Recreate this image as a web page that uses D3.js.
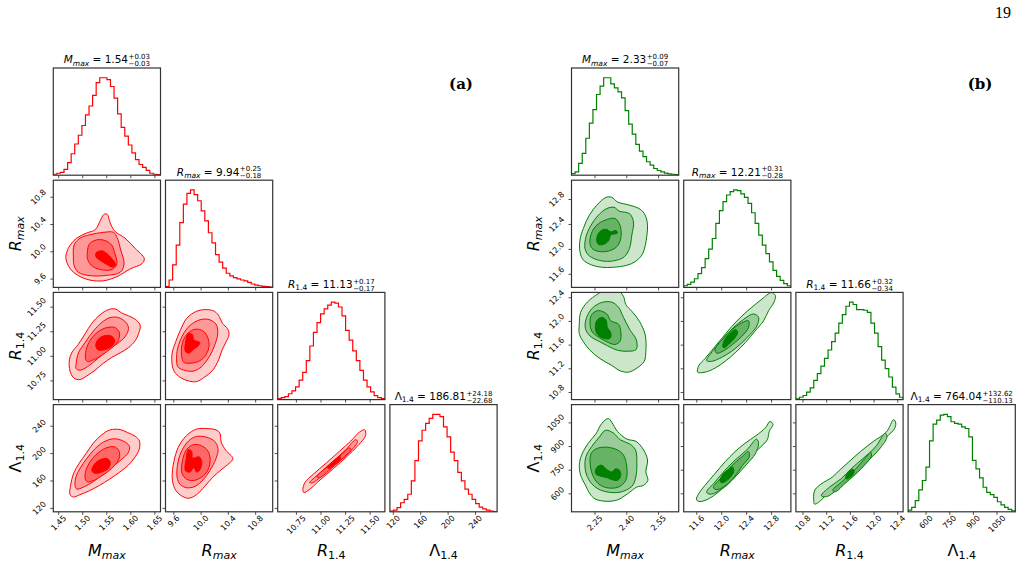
<!DOCTYPE html>
<html><head><meta charset="utf-8">
<script src="https://cdn.jsdelivr.net/npm/d3@7"></script>
<style>body{margin:0;background:#fff}svg{display:block}text{font-family:"DejaVu Sans",sans-serif;fill:#000}</style>
</head><body><svg id="c" width="1024" height="564"></svg>
<script>
// ---------------- DATA ----------------
const symbols = [
  [{t:"M",it:1},{t:"max",it:1,sub:1}],
  [{t:"R",it:1},{t:"max",it:1,sub:1}],
  [{t:"R",it:1},{t:"1.4",sub:1}],
  [{t:"Λ"},{t:"1.4",sub:1}]
];
// (a)
const domainsA = [[1.4388,1.6617],[9.478,11.05],[10.56,11.65],[115,271.5]];
const ticksA = [[1.45,1.50,1.55,1.60,1.65],[9.6,10.0,10.4,10.8],[10.75,11.0,11.25,11.5],[120,160,200,240]];
const tickLabelsA = [["1.45","1.50","1.55","1.60","1.65"],["9.6","10.0","10.4","10.8"],["10.75","11.00","11.25","11.50"],["120","160","200","240"]];
const titlesA = [["1.54","+0.03","−0.03"],["9.94","+0.25","−0.18"],["11.13","+0.17","−0.17"],["186.81","+24.18","−22.68"]];
const histA_M = [1,2,3,6,13,22,32,41,51,62,71,82,95,100,100,98,91,79,63,49,40,31,23,16,11,8,5,2,1,0.5];
const histA_Rmax = [0.7,7.6,23.2,43.3,66.4,85.5,96.5,100,95.2,88.9,78.5,68.2,56.1,45.7,33.6,26,19.7,14.5,11.8,10,8.7,7.6,6.6,5.2,3.5,2.4,1.7,1,0.7,0.3];
const histA_R14 = [1,2,3,6,9,13,20,28,40,55,69,79,88,93,97,100,99,95,86,71,61,50,40,30,20,13,8,4,2,1];
const histA_L = [0.7,1.7,4.2,9.3,12.8,18,31.8,52.6,72.7,83.7,90.7,95.8,100,100,97.6,87.2,76.8,61.2,52.6,40.5,31.8,23.2,18,12.8,8.3,4.8,3.1,1.7,0.7,0.3];

const contA_M_Rmax = [
 [[1.465,9.90],[1.467,10.0],[1.474,10.10],[1.4875,10.2],[1.508,10.275],[1.526,10.325],[1.536,10.45],[1.544,10.55],[1.551,10.55],[1.557,10.425],[1.567,10.30],[1.588,10.20],[1.609,10.05],[1.628,9.90],[1.623,9.825],[1.599,9.75],[1.571,9.635],[1.543,9.575],[1.515,9.585],[1.491,9.65],[1.474,9.75]],
 [[1.4806,9.925],[1.482,10.10],[1.4944,10.20],[1.515,10.25],[1.543,10.285],[1.564,10.285],[1.572,10.20],[1.579,10.025],[1.586,9.825],[1.578,9.70],[1.55,9.655],[1.515,9.65],[1.491,9.70],[1.482,9.80]],
 [[1.5097,10.0],[1.5139,10.115],[1.529,10.175],[1.5465,10.165],[1.56,10.10],[1.567,9.975],[1.571,9.825],[1.5625,9.745],[1.5396,9.735],[1.5208,9.785],[1.5104,9.885]],
 [[1.5278,9.985],[1.5396,10.015],[1.55,9.975],[1.5604,9.90],[1.568,9.815],[1.5625,9.775],[1.55,9.815],[1.536,9.875],[1.5278,9.925]]
];
const contA_M_R14 = [
 [[1.4722,10.965],[1.4771,11.035],[1.491,11.123],[1.5049,11.229],[1.5188,11.335],[1.5361,11.423],[1.5535,11.475],[1.5674,11.482],[1.5813,11.44],[1.5951,11.412],[1.609,11.377],[1.6194,11.317],[1.616,11.229],[1.609,11.158],[1.5951,11.088],[1.5778,11.035],[1.5604,10.989],[1.5431,10.93],[1.5257,10.859],[1.5083,10.80],[1.4944,10.764],[1.4819,10.778],[1.4736,10.849]],
 [[1.4861,10.919],[1.491,11.035],[1.5049,11.141],[1.5222,11.257],[1.5396,11.345],[1.5569,11.394],[1.5743,11.394],[1.5903,11.342],[1.5951,11.282],[1.5882,11.20],[1.5722,11.13],[1.5514,11.06],[1.5306,10.975],[1.5097,10.894],[1.4944,10.859],[1.4861,10.877]],
 [[1.5056,10.982],[1.5083,11.088],[1.5188,11.187],[1.534,11.257],[1.55,11.292],[1.5674,11.292],[1.5764,11.236],[1.5729,11.151],[1.559,11.081],[1.5396,11.011],[1.5208,10.961],[1.5097,10.947]],
 [[1.5271,11.116],[1.5326,11.176],[1.5465,11.211],[1.5604,11.204],[1.5667,11.158],[1.5604,11.102],[1.5451,11.067],[1.5313,11.067]]
];
const contA_Rmax_R14 = [
 [[9.576,10.912],[9.576,11.035],[9.624,11.141],[9.695,11.264],[9.79,11.387],[9.933,11.458],[10.076,11.475],[10.195,11.458],[10.267,11.405],[10.314,11.335],[10.386,11.282],[10.41,11.222],[10.362,11.141],[10.305,11.06],[10.257,10.965],[10.171,10.859],[10.052,10.789],[9.933,10.743],[9.814,10.75],[9.695,10.785],[9.61,10.842]],
 [[9.648,10.912],[9.648,11.053],[9.71,11.187],[9.805,11.292],[9.948,11.363],[10.1,11.377],[10.219,11.327],[10.243,11.222],[10.195,11.106],[10.124,11.0],[10.005,10.894],[9.886,10.849],[9.767,10.856],[9.671,10.884]],
 [[9.719,10.982],[9.719,11.116],[9.79,11.222],[9.91,11.275],[10.029,11.257],[10.1,11.187],[10.114,11.088],[10.052,10.996],[9.957,10.947],[9.838,10.93],[9.743,10.94]],
 [[9.771,11.046],[9.776,11.158],[9.814,11.236],[9.871,11.222],[9.895,11.165],[9.981,11.141],[9.957,11.106],[9.886,11.07],[9.829,11.035]]
];
const contA_M_L = [
 [[1.4736,140.0],[1.475,154.4],[1.4806,170.2],[1.4924,185.6],[1.5069,200],[1.5222,215.4],[1.5396,227.4],[1.5569,234.6],[1.5778,235],[1.5931,230.7],[1.609,225.4],[1.618,218.2],[1.6174,206.2],[1.609,195.2],[1.5951,183.2],[1.5764,172.6],[1.5556,162.6],[1.5347,153.4],[1.5139,145.8],[1.4944,140],[1.4806,136.6]],
 [[1.484,153],[1.4861,166.4],[1.4944,178.4],[1.5083,192.8],[1.5257,207.2],[1.5431,216.8],[1.5639,221.6],[1.5847,218.2],[1.5972,210.6],[1.5944,201],[1.5813,191.8],[1.5639,181.8],[1.5431,170.2],[1.5222,159.2],[1.5014,151],[1.4875,148.2]],
 [[1.5049,164],[1.5069,176],[1.5167,189.4],[1.5326,201.4],[1.55,208.6],[1.5674,209.6],[1.5764,201.9],[1.5743,190.4],[1.5604,178.4],[1.5396,167.4],[1.5222,160.6],[1.5097,158.7]],
 [[1.5188,175],[1.5243,184.6],[1.5361,190.9],[1.55,192.8],[1.5569,188],[1.5535,178.4],[1.5396,173.1],[1.5257,171.2]]
];
const contA_Rmax_L = [
 [[9.576,165.4],[9.6,188],[9.662,208.6],[9.743,221.6],[9.838,230.7],[9.943,236],[10.086,236.5],[10.219,234.6],[10.276,229.8],[10.295,216.8],[10.362,204.8],[10.467,192.8],[10.41,185.6],[10.29,176],[10.171,165.4],[10.052,152],[9.933,140],[9.814,134.7],[9.695,139.5],[9.61,149.6]],
 [[9.648,165.4],[9.662,188],[9.719,204.8],[9.814,218.2],[9.933,225],[10.076,224],[10.195,218.2],[10.248,207.2],[10.219,192.8],[10.133,176],[10.029,161.6],[9.91,152],[9.79,150.1],[9.695,154.9]],
 [[9.719,171.2],[9.733,192.8],[9.79,206.2],[9.886,213],[10.005,211.5],[10.1,203.8],[10.133,191.8],[10.1,176],[10.005,165.4],[9.886,160.6],[9.79,162.6]],
 [[9.771,175],[9.781,192.8],[9.814,205.8],[9.862,203.4],[9.876,193.3],[9.971,195.2],[10.01,188],[9.981,176],[9.933,173.1],[9.895,179.8],[9.838,173.1]]
];
const contA_R14_L = [
 [[10.816,147],[10.836,157.6],[10.924,170.1],[11.056,186.5],[11.188,203.4],[11.303,218.3],[11.391,231.3],[11.444,234.7],[11.454,226.5],[11.378,212],[11.26,195.2],[11.128,178.3],[10.99,161.4],[10.885,147.9],[10.826,143.1]],
 [[10.885,157.6],[10.984,171.1],[11.115,188],[11.247,204.8],[11.352,220.2],[11.372,217.8],[11.293,202.4],[11.171,186.5],[11.039,171.1],[10.918,157.6]],
 [[10.957,166.3],[11.072,181.7],[11.204,197.6],[11.286,208.2],[11.306,205.8],[11.227,194.2],[11.105,178.3],[10.984,164.8]],
 [[11.063,179.8],[11.138,190.4],[11.194,196.1],[11.194,191.3],[11.138,184.1],[11.082,178.3]]
];

// (b)
const domainsB = [[2.139,2.645],[11.39,13.11],[10.68,12.49],[486,1166]];
const ticksB = [[2.25,2.40,2.55],[11.6,12.0,12.4,12.8],[10.8,11.2,11.6,12.0,12.4],[600,750,900,1050]];
const tickLabelsB = [["2.25","2.40","2.55"],["11.6","12.0","12.4","12.8"],["10.8","11.2","11.6","12.0","12.4"],["600","750","900","1050"]];
const titlesB = [["2.33","+0.09","−0.07"],["12.21","+0.31","−0.28"],["11.66","+0.32","−0.34"],["764.04","+132.62","−110.13"]];
const histB_M = [1.7,3.4,12.1,22.4,37.9,53.4,67.2,82.8,91.4,100,100,93.8,89.7,85.5,79.3,66.2,52.4,42.1,31.7,24.8,19,13.8,10.3,6.9,4.8,3.4,2.1,1.4,1,0.7];
const histB_Rmax = [1.7,3.1,5.5,8.9,14.1,20.3,29.6,39.2,50.2,65.6,78.7,88,94.8,98.3,100,99.3,95.9,92.4,86.3,76.6,65.6,53.6,43.3,34.7,26.1,17.5,11.3,7.2,3.8,1.7];
const histB_R14 = [0.7,2.4,4.2,7.6,12.1,19.7,26.6,34.3,42.2,50.9,59.5,68.2,78.5,87.2,95.8,100,97.6,92.4,92.4,91.7,89.6,78.5,68.2,54.3,40.5,31.8,23.2,12.8,5.9,2.4];
const histB_L = [1.7,4.5,11.4,22.4,32.1,45.9,72.8,90,94.1,99.3,100,97.6,92.4,90.7,90,87.2,85.5,76.9,52.8,44.1,34.8,25.2,20,17.6,14.8,10.3,7.2,4.5,2.4,1];

const contB_M_Rmax = [
 [[2.1789,11.963],[2.1789,12.149],[2.1947,12.335],[2.2231,12.548],[2.2579,12.707],[2.3021,12.835],[2.329,12.835],[2.3558,12.761],[2.4159,12.707],[2.4633,12.644],[2.487,12.548],[2.498,12.388],[2.4949,12.229],[2.487,12.059],[2.4712,11.91],[2.4396,11.803],[2.4001,11.745],[2.3369,11.713],[2.2816,11.713],[2.2342,11.75],[2.1947,11.83]],
 [[2.2026,12.016],[2.2073,12.202],[2.2295,12.378],[2.2626,12.537],[2.3021,12.649],[2.339,12.676],[2.3653,12.612],[2.4127,12.574],[2.4317,12.441],[2.4238,12.229],[2.4127,12.016],[2.389,11.883],[2.3495,11.824],[2.2974,11.809],[2.25,11.846],[2.2184,11.91]],
 [[2.2263,12.096],[2.2326,12.255],[2.2579,12.388],[2.2974,12.468],[2.3448,12.495],[2.3685,12.378],[2.3716,12.176],[2.3527,12.043],[2.3132,11.973],[2.2658,11.968],[2.2358,12.016]],
 [[2.2579,12.149],[2.2658,12.255],[2.2848,12.314],[2.3085,12.319],[2.3211,12.282],[2.3495,12.303],[2.3558,12.261],[2.3243,12.229],[2.3132,12.133],[2.2895,12.08],[2.2658,12.08]]
];
const contB_M_R14 = [
 [[2.1758,11.954],[2.1821,12.154],[2.2137,12.326],[2.2658,12.469],[2.3132,12.554],[2.3558,12.537],[2.3843,12.423],[2.3953,12.286],[2.4238,12.171],[2.4601,12.0],[2.487,11.771],[2.4901,11.497],[2.4822,11.326],[2.4475,11.211],[2.4079,11.143],[2.3685,11.166],[2.329,11.257],[2.2737,11.371],[2.2263,11.514],[2.1947,11.657],[2.1758,11.794]],
 [[2.2042,11.886],[2.2105,12.069],[2.2389,12.229],[2.2816,12.32],[2.329,12.326],[2.3606,12.24],[2.3843,12.069],[2.4159,11.851],[2.4443,11.697],[2.4443,11.526],[2.4032,11.497],[2.3558,11.514],[2.3085,11.589],[2.2658,11.669],[2.2263,11.754]],
 [[2.2263,11.966],[2.2342,12.114],[2.2658,12.183],[2.3053,12.126],[2.3243,12.011],[2.3606,11.954],[2.3716,11.829],[2.3685,11.669],[2.3448,11.611],[2.3053,11.657],[2.2658,11.737],[2.2358,11.829]],
 [[2.2516,11.886],[2.2579,12.011],[2.2816,12.069],[2.3021,12.023],[2.3085,11.897],[2.3243,11.811],[2.3211,11.714],[2.2895,11.714],[2.2611,11.783]]
];
const contB_Rmax_R14 = [
 [[11.613,11.143],[11.634,11.257],[11.731,11.371],[11.866,11.543],[12.011,11.726],[12.161,11.914],[12.323,12.091],[12.484,12.24],[12.645,12.377],[12.796,12.486],[12.86,12.44],[12.839,12.326],[12.753,12.183],[12.672,12.011],[12.538,11.84],[12.376,11.64],[12.215,11.469],[12.054,11.326],[11.892,11.211],[11.731,11.143]],
 [[11.758,11.337],[11.866,11.514],[12.027,11.714],[12.188,11.897],[12.349,12.034],[12.511,12.126],[12.591,12.069],[12.565,11.926],[12.457,11.783],[12.323,11.64],[12.161,11.497],[12.0,11.394],[11.839,11.326]],
 [[11.892,11.52],[12.0,11.686],[12.161,11.857],[12.312,11.971],[12.43,12.011],[12.43,11.897],[12.323,11.749],[12.172,11.611],[12.038,11.509],[11.919,11.463]],
 [[12.016,11.571],[12.054,11.709],[12.134,11.8],[12.226,11.863],[12.253,11.806],[12.188,11.691],[12.108,11.611],[12.043,11.554]]
];
const contB_M_L = [
 [[2.1758,782.1],[2.1868,846.4],[2.2184,921.4],[2.2547,981.4],[2.2816,1045.7],[2.3132,1077.9],[2.329,1054.3],[2.3558,996.4],[2.4001,947.2],[2.4443,932.2],[2.4791,878.6],[2.498,814.3],[2.4901,739.3],[2.4996,685.7],[2.4791,653.6],[2.4475,642.9],[2.4032,600],[2.3558,561.4],[2.3021,552.9],[2.25,567.9],[2.2263,600],[2.2026,660],[2.1821,717.9]],
 [[2.2026,771.4],[2.2073,835.7],[2.2342,900],[2.2705,960],[2.299,1002.9],[2.3369,985.7],[2.3685,942.9],[2.4127,917.1],[2.4412,878.6],[2.4475,792.9],[2.4427,707.1],[2.4238,647.1],[2.3685,610.7],[2.3132,610.7],[2.2658,630],[2.2342,664.3],[2.2105,717.9]],
 [[2.2263,810],[2.2342,861.4],[2.2579,887.1],[2.3053,895.7],[2.3558,878.6],[2.3843,846.4],[2.4001,771.4],[2.3953,685.7],[2.3606,642.9],[2.3053,638.6],[2.2658,664.3],[2.2389,717.9]],
 [[2.2516,745.7],[2.2611,771.4],[2.2816,782.1],[2.3053,754.3],[2.329,739.3],[2.3464,758.6],[2.3653,750],[2.3716,715.7],[2.3574,685.7],[2.329,690],[2.3053,702.9],[2.2769,711.4],[2.2547,724.3]]
];
const contB_Rmax_L = [
 [[11.597,561.4],[11.613,589.3],[11.731,653.6],[11.892,728.6],[12.054,803.6],[12.215,867.9],[12.376,921.4],[12.548,968.6],[12.699,1017.9],[12.774,1058.6],[12.823,1041.4],[12.763,996.4],[12.731,942.9],[12.602,889.3],[12.441,825],[12.269,750],[12.108,675],[11.946,610.7],[11.785,567.9],[11.651,550.7]],
 [[11.758,610.7],[11.892,675],[12.054,750],[12.215,814.3],[12.403,878.6],[12.559,947.1],[12.591,917.1],[12.538,852.9],[12.403,788.6],[12.242,717.9],[12.081,653.6],[11.919,610.7],[11.812,597.9]],
 [[11.866,639.3],[12.0,705.7],[12.161,778.6],[12.323,834.3],[12.43,868.6],[12.441,834.3],[12.333,780],[12.199,705.7],[12.065,654.3],[11.925,626.4]],
 [[11.973,685.7],[12.027,728.6],[12.108,754.3],[12.172,771.4],[12.194,741.4],[12.134,702.9],[12.054,677.1],[11.989,670.7]]
];
const contB_R14_L = [
 [[10.983,549.9],[10.994,618.7],[11.103,661.8],[11.291,704.8],[11.429,754.3],[11.589,808.1],[11.771,868.4],[11.989,932.9],[12.206,991],[12.331,1070.6],[12.366,1049.1],[12.343,1012.5],[12.206,958.7],[12.046,898.5],[11.863,833.9],[11.703,775.8],[11.531,711.3],[11.36,653.2],[11.189,592.9],[11.063,545.6],[10.994,534.8]],
 [[11.109,588.6],[11.246,642.4],[11.446,696.2],[11.617,760.8],[11.817,825.3],[12.017,894.2],[12.189,984.6],[12.217,958.7],[12.103,889.9],[11.92,816.7],[11.749,752.2],[11.56,687.6],[11.371,625.2],[11.2,582.1]],
 [[11.303,623],[11.474,683.3],[11.674,752.2],[11.846,825.3],[11.943,864.1],[11.954,838.2],[11.851,786.6],[11.68,722],[11.509,666.1],[11.349,613.4]],
 [[11.52,709.1],[11.577,739.2],[11.646,756.5],[11.663,734.9],[11.6,704.8],[11.537,694]]
];

// ---------------- DRAWING ----------------
const svg = d3.select("#c");
const STEP = 112.2, SIZE = 107.2, Y0 = 68;
let clipId = 0;

function addSym(sel, sym, subFs, subDy) {
  let shifted = false;
  sym.forEach(p => {
    const ts = sel.append("tspan").text(p.t);
    if (p.it) ts.attr("font-style", "italic");
    if (p.sub) { ts.attr("font-size", subFs).attr("dy", subDy); shifted = true; }
  });
  return shifted;
}

function corner(cfg) {
  const g = svg.append("g");
  const n = 4;
  const xs = cfg.domains.map((d, k) => d3.scaleLinear().domain(d).range([cfg.x0 + k*STEP, cfg.x0 + k*STEP + SIZE]));
  const ys = cfg.domains.map((d, k) => d3.scaleLinear().domain(d).range([Y0 + k*STEP + SIZE, Y0 + k*STEP]));
  const contours = {"1_0":cfg.c10,"2_0":cfg.c20,"2_1":cfg.c21,"3_0":cfg.c30,"3_1":cfg.c31,"3_2":cfg.c32};
  for (let i = 0; i < n; i++) {
    for (let j = 0; j <= i; j++) {
      const px = cfg.x0 + j*STEP, py = Y0 + i*STEP;
      const id = "clip" + (clipId++);
      g.append("clipPath").attr("id", id).append("rect").attr("x", px).attr("y", py).attr("width", SIZE).attr("height", SIZE);
      const pg = g.append("g").attr("clip-path", `url(#${id})`);
      const x = xs[j];
      if (i === j) {
        const h = cfg.hists[i];
        const y = d3.scaleLinear().domain([0, 1.1*d3.max(h)]).range([py+SIZE, py]);
        const d0 = cfg.domains[i][0], d1 = cfg.domains[i][1];
        const pts = [[d0, 0]];
        h.forEach((v, k) => { pts.push([d0 + k*(d1-d0)/h.length, v]); pts.push([d0 + (k+1)*(d1-d0)/h.length, v]); });
        pts.push([d1, 0]);
        pg.append("path").attr("d", d3.line().x(p => x(p[0])).y(p => y(p[1]))(pts))
          .attr("fill", "none").attr("stroke", cfg.color).attr("stroke-width", 1.2);
      } else {
        const y = ys[i];
        const levels = contours[i + "_" + j];
        const line = d3.line().x(p => x(p[0])).y(p => y(p[1])).curve(d3.curveCatmullRomClosed.alpha(0.5));
        levels.forEach((poly, k) => {
          pg.append("path").attr("d", line(poly)).attr("fill", cfg.fills[k])
            .attr("stroke", cfg.color).attr("stroke-width", 1).attr("stroke-linejoin", "round");
        });
        // left ticks
        cfg.ticks[i].forEach(v => {
          g.append("line").attr("x1", px - 3).attr("x2", px).attr("y1", y(v)).attr("y2", y(v)).attr("stroke", "#222").attr("stroke-width", 0.8);
        });
      }
      // bottom ticks
      cfg.ticks[j].forEach(v => {
        g.append("line").attr("x1", x(v)).attr("x2", x(v)).attr("y1", py + SIZE).attr("y2", py + SIZE + 3).attr("stroke", "#222").attr("stroke-width", 0.8);
      });
      g.append("rect").attr("x", px).attr("y", py).attr("width", SIZE).attr("height", SIZE)
        .attr("fill", "none").attr("stroke", "#333").attr("stroke-width", 1.2);
      // bottom tick labels
      if (i === n - 1) {
        cfg.ticks[j].forEach((v, k) => {
          const t = g.append("text").attr("font-size", 8).attr("text-anchor", "middle").attr("dominant-baseline", "central").text(cfg.tickLabels[j][k]);
          const L = t.node().getComputedTextLength();
          const bb = (L + 7) * 0.7071;
          t.attr("transform", `translate(${x(v)},${py + SIZE + 2.5 + bb/2}) rotate(-45)`);
        });
        const lab = g.append("text").attr("font-size", 16).attr("text-anchor", "middle")
          .attr("x", px + SIZE/2).attr("y", py + SIZE + 44);
        addSym(lab, symbols[j], 11, 3);
      }
      // left tick labels
      if (j === 0 && i > 0) {
        const y = ys[i];
        cfg.ticks[i].forEach((v, k) => {
          const t = g.append("text").attr("font-size", 8).attr("text-anchor", "middle").attr("dominant-baseline", "central").text(cfg.tickLabels[i][k]);
          const L = t.node().getComputedTextLength();
          const bb = (L + 7) * 0.7071;
          t.attr("transform", `translate(${px - 6 - bb/2},${y(v)}) rotate(-45)`);
        });
        const lab = g.append("text").attr("font-size", 16).attr("text-anchor", "middle")
          .attr("transform", `translate(${px - 32.8},${py + SIZE/2}) rotate(-90)`);
        addSym(lab, symbols[i], 11, 3);
      }
    }
    // title
    const px = cfg.x0 + i*STEP, py = Y0 + i*STEP;
    const base = py - 4.6;
    const tg = g.append("g");
    const t = tg.append("text").attr("font-size", 10.5).attr("x", 0).attr("y", base);
    const sh = addSym(t, symbols[i], 7.5, 2.4);
    const eq = t.append("tspan").text(" = " + cfg.titles[i][0]);
    if (sh) eq.attr("dy", -2.4);
    const w = t.node().getComputedTextLength();
    const sp = tg.append("text").attr("font-size", 7).attr("x", w + 0.5).attr("y", base - 4.3).text(cfg.titles[i][1]);
    const sb = tg.append("text").attr("font-size", 7).attr("x", w + 0.5).attr("y", base + 2.7).text(cfg.titles[i][2]);
    const tw = w + 0.5 + Math.max(sp.node().getComputedTextLength(), sb.node().getComputedTextLength());
    tg.attr("transform", `translate(${px + SIZE/2 - tw/2},0)`);
  }
}

corner({x0: 53.3, domains: domainsA, ticks: ticksA, tickLabels: tickLabelsA, titles: titlesA,
  hists: [histA_M, histA_Rmax, histA_R14, histA_L], color: "#ff0000",
  fills: ["#ffcccc", "#ff9999", "#ff6666", "#ff0000"],
  c10: contA_M_Rmax, c20: contA_M_R14, c21: contA_Rmax_R14, c30: contA_M_L, c31: contA_Rmax_L, c32: contA_R14_L});
corner({x0: 571.5, domains: domainsB, ticks: ticksB, tickLabels: tickLabelsB, titles: titlesB,
  hists: [histB_M, histB_Rmax, histB_R14, histB_L], color: "#008000",
  fills: ["#cce6cc", "#99cc99", "#66b366", "#008000"],
  c10: contB_M_Rmax, c20: contB_M_R14, c21: contB_Rmax_R14, c30: contB_M_L, c31: contB_Rmax_L, c32: contB_R14_L});

svg.append("text").attr("x", 461).attr("y", 88.5).attr("text-anchor", "middle")
  .style("font-family", "'DejaVu Serif',serif").attr("font-weight", "bold").attr("font-size", 15).text("(a)");
svg.append("text").attr("x", 980).attr("y", 88.5).attr("text-anchor", "middle")
  .style("font-family", "'DejaVu Serif',serif").attr("font-weight", "bold").attr("font-size", 15).text("(b)");
svg.append("text").attr("x", 1011).attr("y", 18).attr("text-anchor", "end")
  .style("font-family", "'Liberation Serif',serif").attr("font-size", 16).text("19");
</script>
</body></html>
